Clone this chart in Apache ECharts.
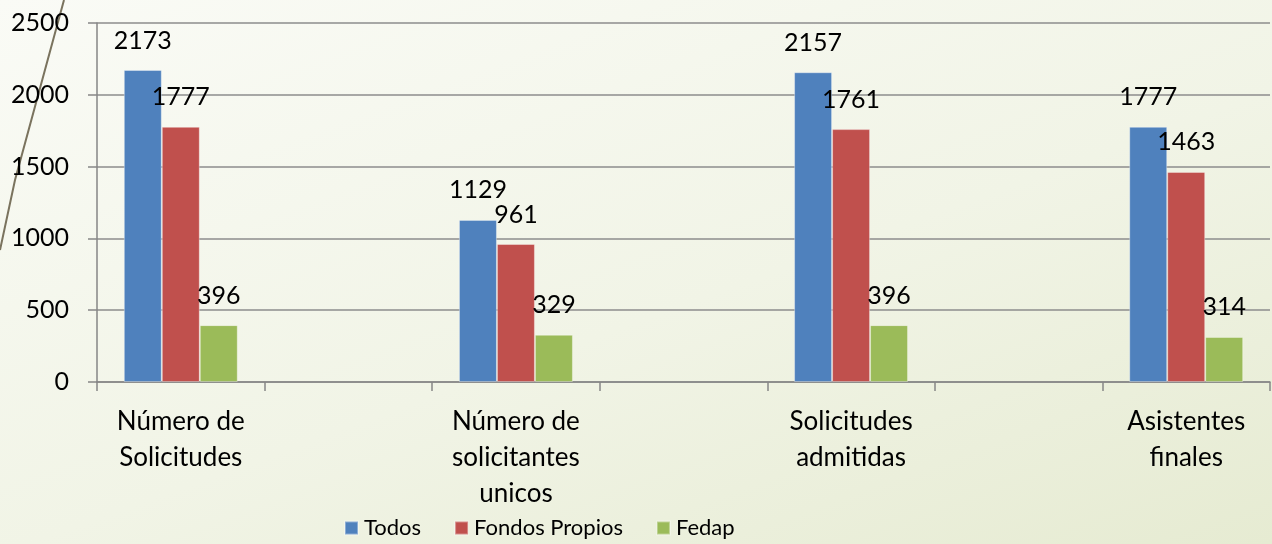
<!DOCTYPE html>
<html>
<head>
<meta charset="utf-8">
<script src="https://cdn.jsdelivr.net/npm/echarts@6/dist/echarts.min.js"></script>
<style>
  html, body { margin: 0; padding: 0; }
  body {
    width: 1272px; height: 544px;
    background: linear-gradient(160deg, #fafbf6 0%, #f1f4e6 55%, #e6ebd2 100%);
  }
  #chart { width: 1272px; height: 544px; }
</style>
</head>
<body>
<div id="chart"></div>
<script>
// categorias (las vacias separan los grupos, como en el original)
const categories = ["Número de\nSolicitudes", "", "Número de\nsolicitantes\nunicos", "", "Solicitudes\nadmitidas", "", "Asistentes\nfinales"]
const seriesNames = ["Todos", "Fondos Propios", "Fedap"]
const todos = [2173, null, 1129, null, 2157, null, 1777]
const fondosPropios = [1777, null, 961, null, 1761, null, 1463]
const fedap = [396, null, 329, null, 396, null, 314]
const colors = ["#4f81bd", "#c0504d", "#9bbb59"]

const font = "Lato, 'Open Sans', sans-serif"

const makeSeries = (name, data) => ({
  name: name,
  type: "bar",
  data: data,
  barGap: "0%",
  barCategoryGap: "32%",
  itemStyle: { borderColor: "rgba(255,255,255,0.35)", borderWidth: 1 },
  label: {
    show: true,
    position: "top",
    distance: 17,
    color: "#000",
    fontSize: 25,
    fontFamily: font,
  },
})

const chart = echarts.init(document.getElementById("chart"))
chart.setOption({
  backgroundColor: "transparent",
  color: colors,
  animation: false,
  grid: { left: 97, right: 2, top: 23, bottom: 162, containLabel: false },
  legend: {
    data: seriesNames,
    left: 344,
    top: 517,
    padding: 0,
    itemWidth: 13,
    itemHeight: 13,
    itemGap: 33,
    icon: "rect",
    textStyle: { color: "#000", fontSize: 22, fontFamily: font, padding: [0, 0, 0, 1] },
  },
  xAxis: {
    type: "category",
    data: categories,
    axisLine: { lineStyle: { color: "#868686", width: 1.5 } },
    axisTick: { show: true, length: 9, interval: 0, lineStyle: { color: "#868686", width: 1.5 } },
    axisLabel: {
      interval: 0,
      margin: 22,
      color: "#000",
      fontSize: 26,
      lineHeight: 36,
      fontFamily: font,
    },
  },
  yAxis: {
    type: "value",
    min: 0,
    max: 2500,
    interval: 500,
    axisLine: { show: true, lineStyle: { color: "#868686", width: 1.5 } },
    axisTick: { show: true, length: 9, lineStyle: { color: "#868686", width: 1.5 } },
    axisLabel: {
      margin: 28,
      color: "#000",
      fontSize: 25,
      fontFamily: font,
      formatter: (v) => String(v),
    },
    splitLine: { lineStyle: { color: "#8c8c8c", width: 1.5 } },
  },
  // linea decorativa de la plantilla de la diapositiva
  graphic: [
    {
      type: "polyline",
      shape: { points: [[64, 0], [15, 180], [0, 250]] },
      style: { stroke: "#7a735e", lineWidth: 2, fill: null },
      z: 0,
    },
  ],
  series: [
    makeSeries(seriesNames[0], todos),
    makeSeries(seriesNames[1], fondosPropios),
    makeSeries(seriesNames[2], fedap),
  ],
})
window.addEventListener("resize", () => {
  chart.resize()
})
</script>
</body>
</html>
